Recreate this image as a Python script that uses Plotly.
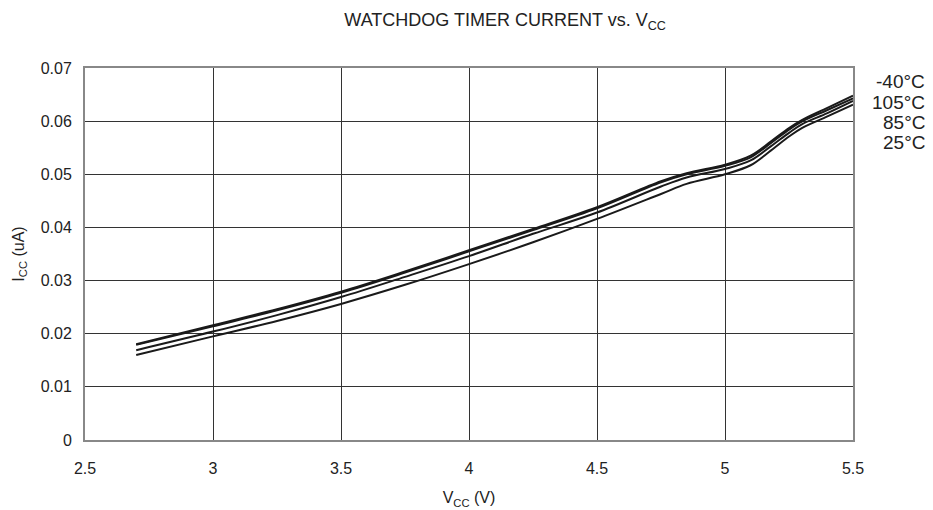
import plotly.graph_objects as go

# Supply voltage (V)
vcc = [2.7, 3.0, 3.25, 3.5, 3.75, 4.0, 4.25, 4.5, 4.75, 4.85, 5.0, 5.1, 5.18, 5.25, 5.3, 5.4, 5.5]

# Watchdog timer supply current (uA) per temperature
icc_m40 = [0.0180, 0.0216, 0.0246, 0.0279, 0.0317, 0.0357, 0.0397, 0.0438, 0.0487, 0.0502, 0.0518, 0.0535, 0.0562, 0.0587, 0.0602, 0.0625, 0.0648]
icc_105 = [0.0179, 0.0214, 0.0244, 0.0277, 0.0315, 0.0355, 0.0395, 0.0436, 0.0485, 0.0500, 0.0516, 0.0532, 0.0559, 0.0584, 0.0599, 0.0621, 0.0643]
icc_85 = [0.0169, 0.0204, 0.0235, 0.0269, 0.0307, 0.0346, 0.0388, 0.0428, 0.0477, 0.0494, 0.0510, 0.0526, 0.0553, 0.0578, 0.0594, 0.0615, 0.0638]
icc_25 = [0.0160, 0.0195, 0.0224, 0.0256, 0.0292, 0.0331, 0.0372, 0.0416, 0.0463, 0.0482, 0.0500, 0.0517, 0.0545, 0.0571, 0.0587, 0.0609, 0.0631]

series = [("-40°C", icc_m40), ("105°C", icc_105), ("85°C", icc_85), ("25°C", icc_25)]

FONT = "Liberation Sans, Arial, sans-serif"

fig = go.Figure()
for name, vals in series:
    fig.add_trace(go.Scatter(
        x=vcc, y=vals, mode="lines", name=name,
        line=dict(color="#1a1a1a", width=2, shape="spline", smoothing=1.0),
        showlegend=False,
    ))

# Temperature labels to the right of the plot
label_y = [0.0674, 0.0636, 0.0598, 0.0559]
for (name, _), yv in zip(series, label_y):
    fig.add_annotation(
        x=1.0964, y=yv, xref="paper", yref="y", text=name, showarrow=False,
        xanchor="right", yanchor="middle",
        font=dict(family=FONT, size=19, color="#222"),
    )

fig.update_layout(
    width=933, height=510,
    margin=dict(l=85, r=80, t=68, b=70, autoexpand=False),
    paper_bgcolor="white", plot_bgcolor="white",
    font=dict(family=FONT, size=16, color="#222"),
    title=dict(
        text="WATCHDOG TIMER CURRENT vs. V<sub>CC</sub>",
        x=0.547, xref="paper", xanchor="center", y=0.961, yanchor="middle",
        font=dict(family=FONT, size=18, color="#222"),
    ),
)

fig.update_xaxes(
    range=[2.5, 5.5], dtick=0.5, tick0=2.5, automargin=False,
    showgrid=True, gridcolor="#333", gridwidth=1,
    showline=True, linecolor="#888", linewidth=2, mirror=True,
    ticks="", zeroline=False, ticklabelstandoff=13,
    tickfont=dict(size=16, color="#222"),
    title=dict(text="V<sub>CC</sub> (V)", font=dict(size=16, color="#222"), standoff=16),
)
fig.update_yaxes(
    range=[0, 0.07], dtick=0.01, tick0=0, automargin=False,
    showgrid=True, gridcolor="#333", gridwidth=1,
    showline=True, linecolor="#888", linewidth=2, mirror=True,
    ticks="", zeroline=False, ticklabelstandoff=8,
    tickfont=dict(size=16, color="#222"),
    title=dict(text="I<sub>CC</sub> (uA)", font=dict(size=16, color="#222"), standoff=12),
)

fig.write_html("out.html")
